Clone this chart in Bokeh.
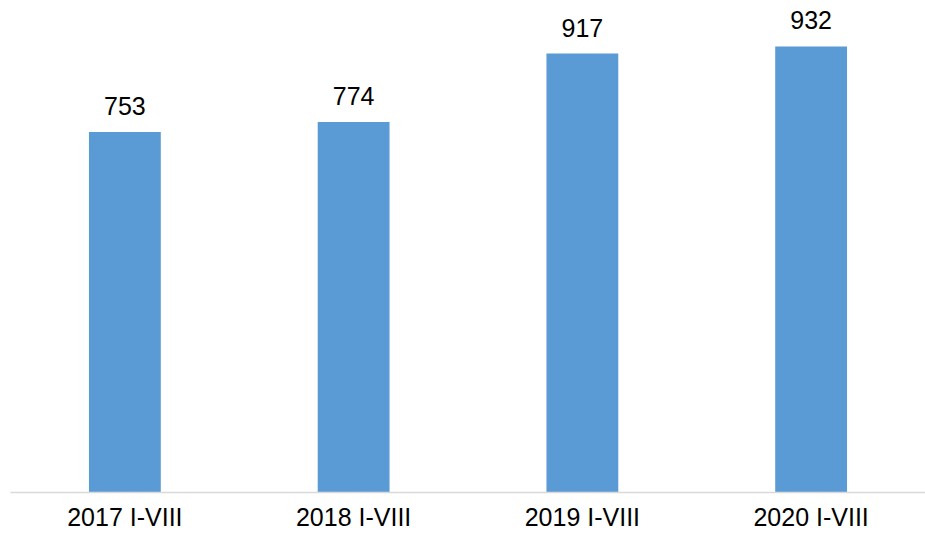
from bokeh.plotting import figure
from bokeh.models import ColumnDataSource, Range1d, FactorRange, LabelSet
from bokeh.core.properties import value
from bokeh.embed import file_html
from bokeh.resources import INLINE

categories = ["2017 I-VIII", "2018 I-VIII", "2019 I-VIII", "2020 I-VIII"]
values = [753, 774, 917, 932]
labels = [str(v) for v in values]

src = ColumnDataSource(dict(cat=categories, val=values, lab=labels))

p = figure(x_range=FactorRange(*categories), y_range=Range1d(0, 1028),
           width=925, height=533, output_backend="svg", toolbar_location=None,
           min_border_left=10, min_border_right=0, min_border_top=0, min_border_bottom=0)
p.x_range.range_padding = 0
p.outline_line_color = None
p.xgrid.visible = False
p.ygrid.visible = False
p.yaxis.visible = False

p.vbar(x="cat", top="val", width=0.314, source=src, color="#5b9bd5", line_color=None)

p.add_layout(LabelSet(x="cat", y="val", text="lab", source=src, text_align="center",
                      text_baseline="alphabetic", y_offset=17, text_font=value("Liberation Sans"),
                      text_font_size="25px", text_color="#000000"))

ax = p.xaxis[0]
ax.axis_line_color = "#d9d9d9"
ax.axis_line_width = 1.5
ax.major_tick_line_color = None
ax.minor_tick_line_color = None
ax.major_tick_out = 0
ax.major_tick_in = 0
ax.major_label_standoff = 10
ax.major_label_text_font = "Liberation Sans"
ax.major_label_text_font_size = "25px"
ax.major_label_text_color = "#000000"

open("out.html", "w").write(file_html(p, INLINE))
